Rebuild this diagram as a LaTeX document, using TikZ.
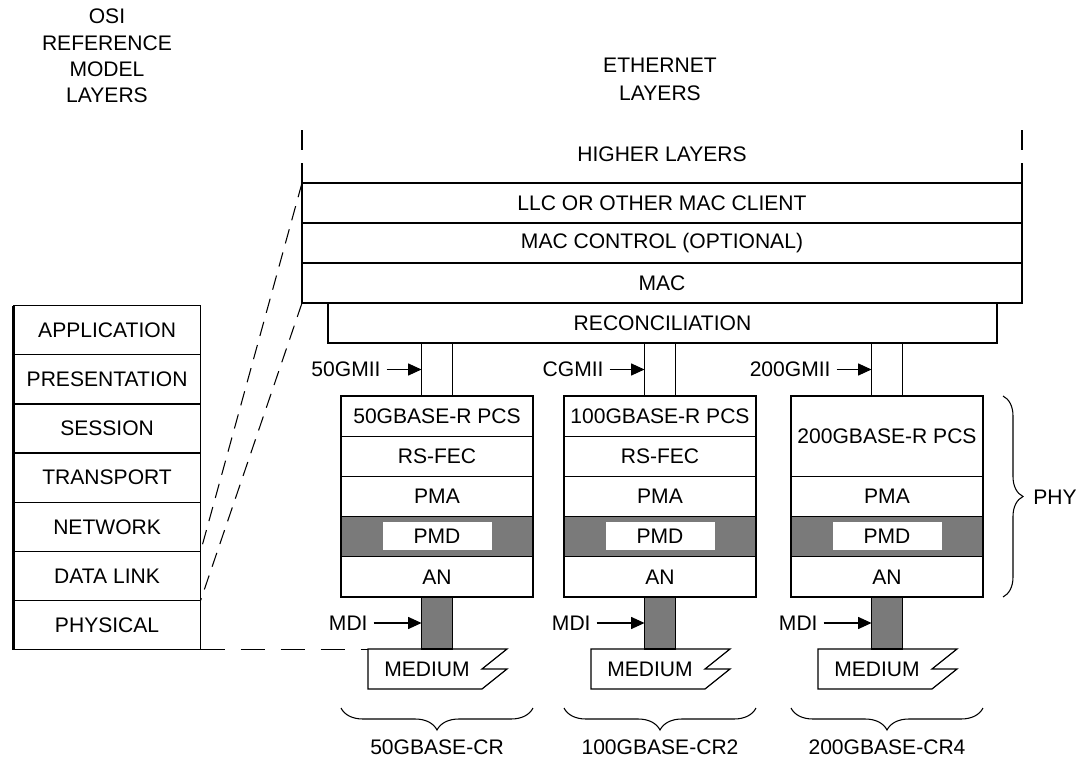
\documentclass[tikz,border=0pt]{standalone}
\usepackage{fontspec}
\setmainfont{Liberation Sans}
\usetikzlibrary{matrix,positioning,arrows.meta,decorations.pathreplacing}

\begin{document}
\begin{tikzpicture}[x=0.75pt, y=-0.75pt, line width=0.9pt,
    lbl/.style={font=\fontsize{15.8pt}{20pt}\selectfont, inner sep=1pt},
    tag/.style={lbl, inner sep=4pt},
    layer/.style={draw, lbl, inner sep=0pt, outer sep=0pt,
                  minimum width=#1, minimum height=30pt},
    layer/.default=144pt,
    phyrow/.style={minimum height=30.15pt},
    link/.style={draw, inner sep=0pt, outer sep=0pt,
                 minimum width=23.25pt, minimum height=#1},
    shaded/.style={fill=black!52},
    arr/.style={line width=0.8pt, -{Triangle[length=10pt,width=9pt]}},
    cut/.style={line width=0.8pt, dash pattern=on 11pt off 7pt},
    cutlong/.style={line width=0.8pt, dash pattern=on 18pt off 12pt},
    brcright/.style={line width=0.8pt, decorate, decoration={brace, amplitude=15pt}},
    brcdown/.style={line width=0.8pt, decorate, decoration={brace, mirror, amplitude=16.5pt}}]
    \useasboundingbox (0,0) rectangle (1076,761);

    % headings
    \node[lbl, align=center, font=\fontsize{15.8pt}{19.7pt}\selectfont] (osititle) at (107,56)
        {OSI\\REFERENCE\\MODEL\\LAYERS};
    \node[lbl, align=center, font=\fontsize{15.8pt}{21pt}\selectfont] (ethtitle) at (660,79)
        {ETHERNET\\LAYERS};

    % OSI stack
    \matrix (osi) [matrix of nodes, anchor=north west, inner sep=0pt, outer sep=0pt,
            row sep=-0.9pt, nodes={layer=140.25pt, minimum height=36.86pt}] at (13,305) {
      APPLICATION \\
      PRESENTATION \\
      SESSION \\
      TRANSPORT \\
      NETWORK \\
      DATA LINK \\
      PHYSICAL \\
    };
    \draw[line width=2pt] (osi-1-1.north west) -- (osi-7-1.south west);
    \draw[line width=1.6pt] (osi-2-1.south west) -- (osi-2-1.south east);

    % Ethernet upper layers
    \node[lbl] (higher) at (662,154) {HIGHER LAYERS};
    \node[layer=540pt] (llc) at (662,203) {LLC OR OTHER MAC CLIENT};
    \node[layer=540pt] (macctl) at (662,243) {MAC CONTROL (OPTIONAL)};
    \node[layer=540pt] (mac) at (662,283) {MAC};
    \node[layer=501.75pt] (recon) at (662.5,323) {RECONCILIATION};
    \coordinate (hl) at (302,130);
    \coordinate (hr) at (1022,130);
    \draw[dash pattern=on 15pt off 9.75pt] (hl) -- (llc.north west);
    \draw[dash pattern=on 15pt off 9.75pt] (hr) -- (llc.north east);
    \draw[line width=2pt] (llc.north west) -- (llc.north east);

    % PHY stacks
    \foreach \i/\cx/\mii/\phy in {1/437/50GMII/50GBASE-CR,
                                  2/660/CGMII/100GBASE-CR2,
                                  3/887/200GMII/200GBASE-CR4} {
      \node[layer, phyrow] (pma\i) at (\cx,496.5) {PMA};
      \node[layer, phyrow, shaded] (pmd\i) at (\cx,536.7) {};
      \node[lbl, fill=white, inner sep=0pt, minimum width=81.75pt,
            minimum height=21pt] (pmdtxt\i) at (\cx,536) {PMD};
      \node[layer, phyrow] (an\i) at (\cx,576.9) {AN};
      \node[link=39.75pt] (mii\i) at (\cx,369.5) {};
      \node[link=39pt, shaded] (mdi\i) at (\cx,623) {};
      \node[tag, left=26.25pt of mii\i] (miilab\i) {\mii};
      \draw[arr] (miilab\i.east) -- (mii\i.west);
      \node[tag, left=36pt of mdi\i] (mdilab\i) {MDI};
      \draw[arr] (mdilab\i.east) -- (mdi\i.west);
      % medium
      \draw (\cx-69,649) coordinate (medtl\i) -- (\cx+70,649) -- (\cx+45,669)
            -- (\cx+70,669) -- (\cx+45,689) -- (\cx-69,689) -- cycle;
      \node[lbl] (med\i) at (\cx-10,669) {MEDIUM};
      % port type
      \coordinate (bl\i) at (\cx-96,708);
      \coordinate (br\i) at (\cx+96,708);
      \draw[brcdown] (bl\i) -- (br\i);
      \node[lbl] (port\i) at (\cx,747) {\phy};
    }
    \foreach \i/\cx/\pcs in {1/437/50GBASE-R PCS, 2/660/100GBASE-R PCS} {
      \node[layer, phyrow] (pcs\i) at (\cx,416.1) {\pcs};
      \node[layer, phyrow] (fec\i) at (\cx,456.3) {RS-FEC};
    }
    \node[layer, minimum height=60.3pt] (pcs3) at (887,436.2) {200GBASE-R PCS};

    % PHY brace
    \coordinate (phytop) at (1003,396);
    \coordinate (phybot) at (1003,597);
    \draw[brcright] (phytop) -- (phybot);
    \node[lbl] (phy) at (1055,497) {PHY};

    % OSI to Ethernet mapping
    \draw[cut] (llc.north west) -- (osi-5-1.south east);
    \draw[cut] (mac.south west) -- (osi-6-1.south east);
    \draw[cutlong] (osi-7-1.south east) -- (medtl1 |- osi-7-1.south east);
\end{tikzpicture}
\end{document}
